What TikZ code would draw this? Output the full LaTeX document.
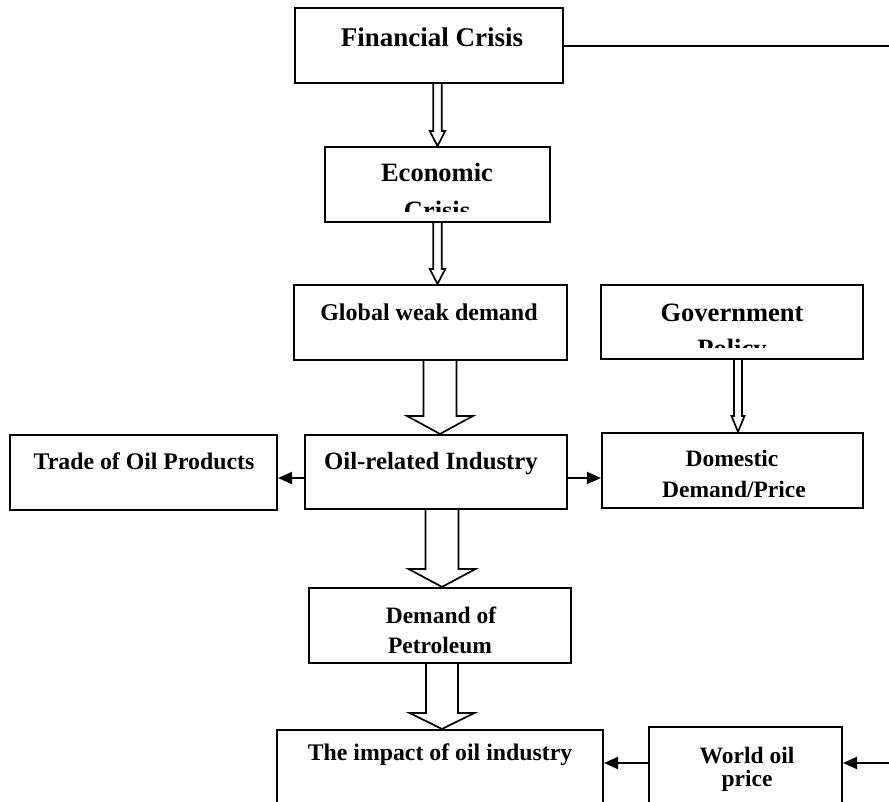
\documentclass[tikz,border=0pt]{standalone}
\usepackage{fontspec}
\setmainfont{Liberation Serif}
\usetikzlibrary{arrows.meta,calc}
% hollow block arrow: #1 from node, #2 to node, #3 x, #4 half shaft, #5 half head, #6 head length
\newcommand{\hollowarr}[6]{%
  \draw[hollow] let \p1=(#1.south), \p2=(#2.north) in
    ({#3pt-#4pt},\y1) -- ({#3pt-#4pt},{\y2+#6pt}) -- ({#3pt-#5pt},{\y2+#6pt})
    -- (#3pt,\y2) -- ({#3pt+#5pt},{\y2+#6pt}) -- ({#3pt+#4pt},{\y2+#6pt})
    -- ({#3pt+#4pt},\y1);}
\begin{document}
\begin{tikzpicture}[x=1pt,y=-1pt,
  box/.style={draw, line width=2.1pt, inner sep=0pt},
  lbl/.style={font=\fontsize{#1}{28}\selectfont\bfseries, inner sep=0pt, anchor=base},
  lbl/.default=23.5,
  hollow/.style={line width=1.7pt, line join=miter},
  solidarrow/.style={line width=2pt, -{Triangle[length=14pt,width=12pt]}},
  plainline/.style={line width=2pt}]
\clip (0,0) rectangle (889,802);
\fill[white] (0,0) rectangle (889,802);
% boxes
\node[box, minimum width=268pt, minimum height=75pt] (fin) at (429,45.5) {};
\node[box, minimum width=225pt, minimum height=75pt] (eco) at (437.5,184.5) {};
\node[box, minimum width=273pt, minimum height=75pt] (glob) at (430.5,322.5) {};
\node[box, minimum width=262pt, minimum height=74pt] (gov) at (732,322) {};
\node[box, minimum width=267pt, minimum height=75pt] (trade) at (143.5,472.5) {};
\node[box, minimum width=262pt, minimum height=74pt] (oil) at (436,472) {};
\node[box, minimum width=261pt, minimum height=75pt] (dom) at (732.5,470.5) {};
\node[box, minimum width=262pt, minimum height=75pt] (pet) at (440,625.5) {};
\node[box, minimum width=326pt, minimum height=100pt] (imp) at (440,780) {};
\node[box, minimum width=193pt, minimum height=103pt] (world) at (745.5,778.5) {};
% labels
\node[lbl=27] (finT) at (432,47) {Financial Crisis};
\node[lbl=26.5] (ecoT) at (437,182) {Economic};
\begin{scope}
  \clip (325,147) rectangle (550,212);
  \node[lbl=26.5] (ecoT2) at (437,219.5) {Crisis};
\end{scope}
\node[lbl=24] (globT) at (429,320) {Global weak demand};
\node[lbl=26.5] (govT) at (732,322) {Government};
\begin{scope}
  \clip (601,285) rectangle (863,348);
  \node[lbl=26.5] (govT2) at (732,357.5) {Policy};
\end{scope}
\node[lbl=23.8] (tradeT) at (144,469) {Trade of Oil Products};
\node[lbl=24.8] (oilT) at (431,469) {Oil-related Industry};
\node[lbl] (domT) at (732,466) {Domestic};
\begin{scope}
  \clip (602,433) rectangle (863,496);
  \node[lbl] (domT2) at (734,497) {Demand/Price};
\end{scope}
\node[lbl] (petT) at (441,623) {Demand of};
\begin{scope}
  \clip (309,588) rectangle (571,657);
  \node[lbl] (petT2) at (440,653) {Petroleum};
\end{scope}
\node[lbl=23.8] (impT) at (440,760) {The impact of oil industry};
\node[lbl] (worldT) at (747,763) {World oil};
\node[lbl] (worldT2) at (747,786) {price};
% free ends at the right edge
\coordinate (edgeTop) at (889,46.5);
\coordinate (edgeBot) at (889,763);
% connectors
\draw[plainline] (fin.east |- edgeTop) -- (edgeTop);
\hollowarr{fin}{eco}{437.5}{4.2}{7.8}{15}
\hollowarr{eco}{glob}{437.5}{4.2}{7.8}{15}
\hollowarr{glob}{oil}{440}{16.5}{33}{18}
\hollowarr{gov}{dom}{738}{4}{6.5}{16}
\hollowarr{oil}{pet}{442}{16.5}{33.5}{18}
\hollowarr{pet}{imp}{442}{16}{32.5}{16}
\draw[solidarrow] (oil.west |- 0,478) -- (trade.east |- 0,478);
\draw[solidarrow] (oil.east |- 0,478) -- (dom.west |- 0,478);
\draw[solidarrow] (world.west |- edgeBot) -- (imp.east |- edgeBot);
\draw[solidarrow] (edgeBot) -- (world.east |- edgeBot);
\end{tikzpicture}
\end{document}
